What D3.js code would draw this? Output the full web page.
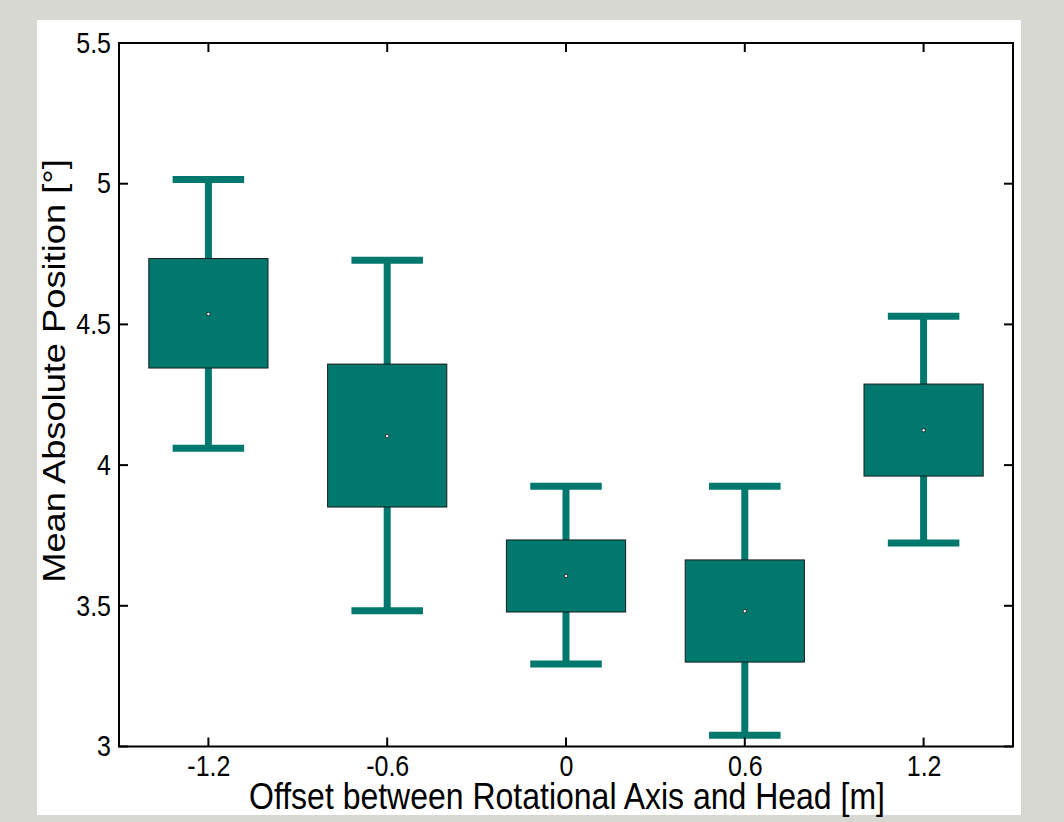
<!DOCTYPE html>
<html>
<head>
<meta charset="utf-8">
<script src="https://cdn.jsdelivr.net/npm/d3@7"></script>
<style>
	body { margin: 0; background: #d8d8d3; }
	svg { display: block; }
	text { font-family: "Liberation Sans", Arial, sans-serif; fill: #000; }
</style>
</head>
<body>
<script>
// offsets [m] and box statistics
var offsets = [-1.2, -0.6, 0, 0.6, 1.2];
var whiskerLow = [4.06, 3.482, 3.293, 3.04, 3.723];
var boxLow = [4.345, 3.851, 3.478, 3.30, 3.961];
var centers = [4.537, 4.103, 3.606, 3.481, 4.124];
var boxHigh = [4.734, 4.359, 3.734, 3.663, 4.288];
var whiskerHigh = [5.015, 4.728, 3.925, 3.925, 4.529];
var xTicks = [-1.2, -0.6, 0, 0.6, 1.2];
var yTicks = [3, 3.5, 4, 4.5, 5, 5.5];

var W = 1064, H = 822;
var margin = {left: 119, top: 43, right: 1064 - 1013, bottom: 822 - 746.5};
var teal = "#00786e";
var stretch = 1.15;   // the exported figure is a bit taller than wide

var svg = d3.select("body").append("svg").attr("width", W).attr("height", H);

// white figure panel
svg.append("rect").attr("x", 37).attr("y", 20).attr("width", 984).attr("height", 795).attr("fill", "#fff");

var x = d3.scaleLinear().domain([-1.5, 1.5]).range([margin.left, W - margin.right]);
var y = d3.scaleLinear().domain([3, 5.5]).range([H - margin.bottom, margin.top]);

var boxW = x(0.2) - x(0) ;
var capW = x(0.12) - x(0);

var data = offsets.map(function(o, i){
	return {x: o, wl: whiskerLow[i], bl: boxLow[i], c: centers[i], bh: boxHigh[i], wh: whiskerHigh[i]};
});

var g = svg.selectAll(".box").data(data).enter().append("g").attr("class", "box");

// whiskers
g.append("line")
	.attr("x1", function(d){ return x(d.x); }).attr("x2", function(d){ return x(d.x); })
	.attr("y1", function(d){ return y(d.wh); }).attr("y2", function(d){ return y(d.wl); })
	.attr("stroke", teal).attr("stroke-width", 7);
// caps
["wh", "wl"].forEach(function(k){
	g.append("line")
		.attr("x1", function(d){ return x(d.x) - capW; }).attr("x2", function(d){ return x(d.x) + capW; })
		.attr("y1", function(d){ return y(d[k]); }).attr("y2", function(d){ return y(d[k]); })
		.attr("stroke", teal).attr("stroke-width", 7);
});
// boxes
g.append("rect")
	.attr("x", function(d){ return x(d.x) - boxW; })
	.attr("width", 2 * boxW)
	.attr("y", function(d){ return y(d.bh); })
	.attr("height", function(d){ return y(d.bl) - y(d.bh); })
	.attr("fill", teal).attr("stroke", "#1a1a1a").attr("stroke-width", 1);
// centre markers
g.append("circle")
	.attr("cx", function(d){ return x(d.x); }).attr("cy", function(d){ return y(d.c); })
	.attr("r", 1.8).attr("fill", "#e8e8e8").attr("stroke", "#111").attr("stroke-width", 0.8);

// frame and ticks
var x0 = x.range()[0], x1 = x.range()[1], y0 = y.range()[0], y1 = y.range()[1];
var tickLen = 9;
var fmt = function(v){ return String(v); };   // plain hyphen minus like the original

var xAxisB = d3.axisBottom(x).tickValues(xTicks).tickSize(0).tickPadding(12).tickFormat(fmt);
var yAxisL = d3.axisLeft(y).tickValues(yTicks).tickSize(0).tickPadding(8).tickFormat(fmt);

var gx = svg.append("g").attr("transform", "translate(0," + y0 + ")").call(xAxisB);
var gy = svg.append("g").attr("transform", "translate(" + x0 + ",0)").call(yAxisL);
[gx, gy].forEach(function(a){
	a.select(".domain").remove();
	a.selectAll("text").style("font-size", "25px").attr("fill", "#000").style("font-family", "'Liberation Sans', Arial, sans-serif");
});
// stretch tick labels vertically about their baseline / centre
var xb = 12 + 0.71 * 25;
gx.selectAll("text").attr("transform", "translate(0," + xb + ") scale(1," + stretch + ") translate(0," + (-xb) + ")");
gy.selectAll("text").attr("transform", "scale(1," + stretch + ")");

var ticks = svg.append("g").attr("stroke", "#000").attr("stroke-width", 2);
xTicks.forEach(function(t){
	ticks.append("line").attr("x1", x(t)).attr("x2", x(t)).attr("y1", y0).attr("y2", y0 - tickLen);
	ticks.append("line").attr("x1", x(t)).attr("x2", x(t)).attr("y1", y1).attr("y2", y1 + tickLen);
});
yTicks.forEach(function(t){
	ticks.append("line").attr("x1", x0).attr("x2", x0 + tickLen).attr("y1", y(t)).attr("y2", y(t));
	ticks.append("line").attr("x1", x1).attr("x2", x1 - tickLen).attr("y1", y(t)).attr("y2", y(t));
});
svg.append("rect").attr("x", x0).attr("y", y1).attr("width", x1 - x0).attr("height", y0 - y1)
	.attr("fill", "none").attr("stroke", "#000").attr("stroke-width", 2);

// axis labels
svg.append("text").attr("transform", "translate(" + ((x0 + x1) / 2 + 1) + ",809) scale(1," + stretch + ")")
	.attr("text-anchor", "middle")
	.style("font-size", "32px").text("Offset between Rotational Axis and Head [m]");
svg.append("text").attr("transform", "translate(65,371) rotate(-90) scale(1.17,1)")
	.attr("text-anchor", "middle").style("font-size", "31px").text("Mean Absolute Position [°]");
</script>
</body>
</html>
